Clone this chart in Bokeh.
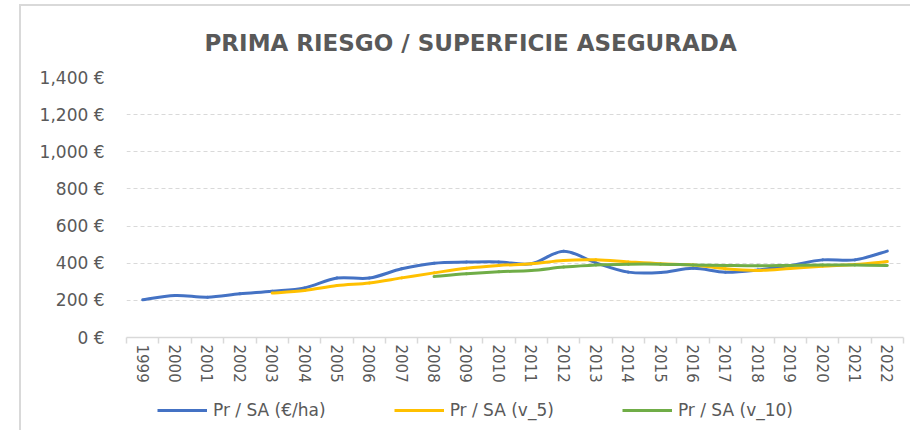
from bokeh.plotting import figure
from bokeh.layouts import column
from bokeh.models import FixedTicker, Range1d, Legend, LegendItem, ColumnDataSource
from bokeh.embed import file_html
from bokeh.resources import INLINE

# ---- data ----
years = list(range(1999, 2023))
year_labels = [str(y) for y in years]
pr_sa = [203, 226, 217, 235, 249, 267, 320, 320, 370, 400, 406, 407, 397, 465,
         402, 352, 350, 373, 352, 364, 388, 418, 418, 465]
pr_sa_v5 = [None, None, None, None, 239, 253, 280, 294, 321, 348, 373, 388, 397,
            415, 418, 407, 397, 391, 370, 361, 372, 384, 393, 409]
pr_sa_v10 = [None] * 9 + [328, 343, 354, 361, 379, 391, 395, 395, 391, 388, 386,
                          388, 390, 390, 388]
y_ticks = [0, 200, 400, 600, 800, 1000, 1200, 1400]
y_tick_labels = ["0 €", "200 €", "400 €", "600 €", "800 €", "1,000 €", "1,200 €", "1,400 €"]
series_names = ["Pr / SA (€/ha)", "Pr / SA (v_5)", "Pr / SA (v_10)"]
colors = ["#4472C4", "#FFC000", "#70AD47"]
title = "PRIMA RIESGO / SUPERFICIE ASEGURADA"

FONT = "DejaVu Sans"
TXT = "#595959"
BORDER = "2px solid #d9d9d9"

p = figure(width=891, height=384,
           x_range=Range1d(1998.5, 2022.5), y_range=Range1d(0, 1400),
           output_backend="svg", toolbar_location=None,
           min_border_left=105, min_border_right=9,
           min_border_top=70, min_border_bottom=53)
p.margin = (4, 0, 0, 19)
p.styles = {"border-left": BORDER, "border-top": BORDER}
p.outline_line_color = None
p.background_fill_color = "white"
p.border_fill_color = "white"

p.title.text = title
p.title.align = "left"
p.title.offset = 78
p.title.text_font = FONT
p.title.text_font_size = "23px"
p.title.text_font_style = "bold"
p.title.text_color = TXT
p.title.standoff = 43


def smooth_segments(xs, ys):
    pts = [(x, y) for x, y in zip(xs, ys) if y is not None]
    x0, y0, x1, y1, cx0, cy0, cx1, cy1 = ([] for _ in range(8))
    n = len(pts)
    for i in range(n - 1):
        pm = pts[i - 1] if i > 0 else pts[i]
        pa = pts[i]
        pb = pts[i + 1]
        pn = pts[i + 2] if i + 2 < n else pts[i + 1]
        x0.append(pa[0]); y0.append(pa[1])
        x1.append(pb[0]); y1.append(pb[1])
        cx0.append(pa[0] + (pb[0] - pm[0]) / 6.0)
        cy0.append(pa[1] + (pb[1] - pm[1]) / 6.0)
        cx1.append(pb[0] - (pn[0] - pa[0]) / 6.0)
        cy1.append(pb[1] - (pn[1] - pa[1]) / 6.0)
    return ColumnDataSource(dict(x0=x0, y0=y0, x1=x1, y1=y1,
                                 cx0=cx0, cy0=cy0, cx1=cx1, cy1=cy1))


for vals, col in zip([pr_sa, pr_sa_v5, pr_sa_v10], colors):
    src = smooth_segments(years, vals)
    p.bezier(x0="x0", y0="y0", x1="x1", y1="y1", cx0="cx0", cy0="cy0",
             cx1="cx1", cy1="cy1", source=src, line_color=col,
             line_width=3, line_cap="round")

# x axis
xa = p.xaxis[0]
xa.ticker = FixedTicker(ticks=years, minor_ticks=[y - 0.5 for y in years] + [years[-1] + 0.5])
xa.major_label_overrides = {y: lab for y, lab in zip(years, year_labels)}
xa.major_tick_line_color = None
xa.major_tick_out = 0
xa.major_tick_in = 0
xa.minor_tick_line_color = "#d9d9d9"
xa.minor_tick_line_width = 1.5
xa.minor_tick_out = 6
xa.minor_tick_in = 0
xa.axis_line_color = "#d9d9d9"
xa.axis_line_width = 1.5
xa.major_label_orientation = "vertical"
xa.major_label_standoff = 1
xa.major_label_text_font = FONT
xa.major_label_text_font_size = "15px"
xa.major_label_text_color = TXT

# y axis
ya = p.yaxis[0]
ya.ticker = FixedTicker(ticks=y_ticks)
ya.major_label_overrides = {t: lab for t, lab in zip(y_ticks, y_tick_labels)}
ya.axis_line_color = None
ya.major_tick_line_color = None
ya.major_tick_out = 0
ya.major_tick_in = 0
ya.minor_tick_line_color = None
ya.major_label_standoff = 22
ya.major_label_text_font = FONT
ya.major_label_text_font_size = "17px"
ya.major_label_text_color = TXT

p.xgrid.visible = False
p.ygrid.grid_line_color = "#d9d9d9"
p.ygrid.grid_line_dash = "4 3"
p.ygrid.grid_line_width = 1.2

# legend strip below the chart
pl = figure(width=891, height=42, output_backend="svg", toolbar_location=None,
            x_axis_location=None, y_axis_location=None,
            x_range=Range1d(0, 1), y_range=Range1d(0, 1),
            min_border=0)
pl.margin = (0, 0, 0, 19)
pl.styles = {"border-left": BORDER}
pl.outline_line_color = None
pl.grid.visible = False
items = []
nan = float("nan")
for name, col in zip(series_names, colors):
    r = pl.line(x=[nan], y=[nan], line_color=col, line_width=3)
    items.append(LegendItem(label=name, renderers=[r]))
legend = Legend(items=items, orientation="horizontal", location=(31, 10),
                glyph_width=50, glyph_height=20, label_height=20,
                label_standoff=6, spacing=68,
                padding=0, margin=0, border_line_color=None,
                background_fill_alpha=0, label_text_font=FONT,
                label_text_font_size="17px", label_text_color=TXT)
pl.add_layout(legend)

layout = column(p, pl, spacing=0)
open("out.html", "w").write(file_html(layout, INLINE))
